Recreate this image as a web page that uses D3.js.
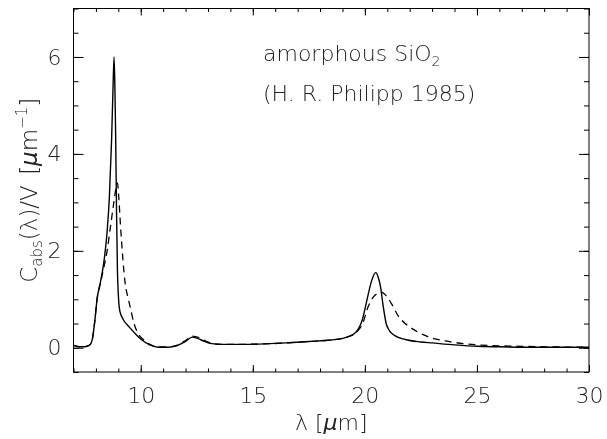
<!DOCTYPE html>
<html>
<head>
<meta charset="utf-8">
<script src="https://cdn.jsdelivr.net/npm/d3@7"></script>
<style>
  html, body { margin: 0; padding: 0; background: #fff; }
  svg { filter: grayscale(1); }
  svg text { font-family: "DejaVu Sans", "Liberation Sans", sans-serif; font-weight: 200; fill: #222; }
</style>
</head>
<body>
<svg id="chart" width="607" height="439"></svg>
<script>
// Wavelength (micron) and C_abs/V (per micron) for the solid curve
const solidLambda = [7.0,7.15,7.3,7.5,7.65,7.75,7.85,7.95,8.05,8.2,8.35,8.5,8.6,8.7,8.76,8.81,8.85,8.88,8.92,8.96,9.0,9.07,9.2,9.5,9.8,10.0,10.4,10.8,11.2,11.6,12.0,12.3,12.5,12.8,13.1,13.6,14.5,15.5,16.5,17.5,18.5,19.2,19.6,19.9,20.1,20.3,20.48,20.6,20.7,20.82,20.95,21.1,21.3,21.8,22.5,23.0,24,25,26,28,30];
const solidValue  = [0.05,0.03,0.02,0.02,0.04,0.07,0.2,0.55,1.0,1.35,1.75,2.4,3.1,4.3,5.3,6.0,5.3,4.4,2.8,1.6,1.1,0.75,0.6,0.42,0.27,0.18,0.06,0.01,0.01,0.04,0.13,0.22,0.20,0.14,0.09,0.07,0.07,0.08,0.10,0.13,0.16,0.22,0.32,0.6,1.0,1.38,1.55,1.45,1.25,0.85,0.5,0.35,0.26,0.17,0.12,0.10,0.06,0.03,0.02,0.01,0.01];
// Dashed curve
const dashLambda = [7.0,7.3,7.65,7.75,7.85,7.95,8.05,8.2,8.35,8.5,8.65,8.8,8.9,8.96,9.02,9.1,9.2,9.3,9.45,9.55,9.7,9.85,10.0,10.2,10.4,10.8,11.2,11.6,12.0,12.3,12.6,12.9,13.2,13.6,14.5,15.5,16.5,17.5,18.5,19.2,19.6,19.9,20.15,20.35,20.55,20.75,20.95,21.2,21.5,21.8,22.2,22.6,23.0,23.6,24.5,25.2,26,27,28,30];
const dashValue  = [0.05,0.02,0.04,0.07,0.2,0.55,1.0,1.33,1.65,2.0,2.5,3.0,3.3,3.4,3.1,2.5,1.85,1.35,1.0,0.8,0.5,0.32,0.22,0.14,0.07,0.02,0.02,0.05,0.15,0.24,0.21,0.14,0.09,0.07,0.07,0.08,0.10,0.13,0.16,0.22,0.31,0.5,0.85,1.03,1.12,1.15,1.07,0.9,0.65,0.5,0.37,0.27,0.2,0.14,0.08,0.055,0.04,0.03,0.02,0.01];

const xDomain = [7, 30];
const yDomain = [-0.5, 7];
const xMajorTicks = [10, 15, 20, 25, 30];
const xMinorTicks = [7,8,9,10,11,12,13,14,15,16,17,18,19,20,21,22,23,24,25,26,27,28,29,30];
const yMajorTicks = [0, 2, 4, 6];
const yMinorTicks = [-0.5,0,0.5,1,1.5,2,2.5,3,3.5,4,4.5,5,5.5,6,6.5,7];

const svg = d3.select("#chart");
const L = 73.5, R = 589, T = 8.5, B = 372;
const x = d3.scaleLinear().domain(xDomain).range([L, R]);
const y = d3.scaleLinear().domain(yDomain).range([B, T]);

svg.append("defs").append("clipPath").attr("id", "clip")
  .append("rect").attr("x", L).attr("y", T).attr("width", R - L).attr("height", B - T);

const xMajLen = 7, xMinLen = 3.5, yMajLen = 10, yMinLen = 5;
const fs = 22;
const FONT = "DejaVu Sans, Liberation Sans, sans-serif";

function styleAxis(g) {
  g.select(".domain").remove();
  g.selectAll(".tick line").attr("stroke", "#000").attr("stroke-width", 1);
}
function styleText(g) {
  g.selectAll("text").attr("font-size", fs).style("font-family", FONT)
    .style("font-weight", 200).attr("fill", "#222");
}

// bottom
svg.append("g").attr("transform", `translate(0,${B})`)
  .call(d3.axisBottom(x).tickValues(xMinorTicks).tickSize(-xMinLen).tickFormat(""))
  .call(styleAxis);
svg.append("g").attr("transform", `translate(0,${B})`)
  .call(d3.axisBottom(x).tickValues(xMajorTicks).tickSize(-xMajLen).tickPadding(15).tickFormat(d3.format("d")))
  .call(styleAxis).call(styleText);
// top
svg.append("g").attr("transform", `translate(0,${T})`)
  .call(d3.axisTop(x).tickValues(xMinorTicks).tickSize(-xMinLen).tickFormat(""))
  .call(styleAxis);
svg.append("g").attr("transform", `translate(0,${T})`)
  .call(d3.axisTop(x).tickValues(xMajorTicks).tickSize(-xMajLen).tickFormat(""))
  .call(styleAxis);
// left
svg.append("g").attr("transform", `translate(${L},0)`)
  .call(d3.axisLeft(y).tickValues(yMinorTicks).tickSize(-yMinLen).tickFormat(""))
  .call(styleAxis);
svg.append("g").attr("transform", `translate(${L},0)`)
  .call(d3.axisLeft(y).tickValues(yMajorTicks).tickSize(-yMajLen).tickPadding(12).tickFormat(d3.format("d")))
  .call(styleAxis).call(styleText);
// right
svg.append("g").attr("transform", `translate(${R},0)`)
  .call(d3.axisRight(y).tickValues(yMinorTicks).tickSize(-yMinLen).tickFormat(""))
  .call(styleAxis);
svg.append("g").attr("transform", `translate(${R},0)`)
  .call(d3.axisRight(y).tickValues(yMajorTicks).tickSize(-yMajLen).tickFormat(""))
  .call(styleAxis);

// frame
svg.append("rect").attr("x", L).attr("y", T).attr("width", R - L).attr("height", B - T)
  .attr("fill", "none").attr("stroke", "#000").attr("stroke-width", 1);

const line = d3.line().x(d => x(d[0])).y(d => y(d[1])).curve(d3.curveMonotoneX);
const solid = solidLambda.map((l, i) => [l, solidValue[i]]);
const dashed = dashLambda.map((l, i) => [l, dashValue[i]]);

const plot = svg.append("g").attr("clip-path", "url(#clip)");
plot.append("path").datum(solid).attr("d", line)
  .attr("fill", "none").attr("stroke", "#000").attr("stroke-width", 1.4);
plot.append("path").datum(dashed).attr("d", line)
  .attr("fill", "none").attr("stroke", "#000").attr("stroke-width", 1.3)
  .attr("stroke-dasharray", "7,5");

// annotations
const t1 = svg.append("text").attr("x", 263).attr("y", 61).attr("font-size", fs);
t1.append("tspan").text("amorphous SiO");
t1.append("tspan").attr("font-size", 14).attr("dy", 5).text("2");
svg.append("text").attr("x", 263).attr("y", 101).attr("font-size", fs).text("(H. R. Philipp 1985)");

// x title
const xt = svg.append("text").attr("x", (L + R) / 2).attr("y", 430).attr("text-anchor", "middle").attr("font-size", fs);
xt.append("tspan").text("λ [");
xt.append("tspan").attr("font-style", "italic").text("μ");
xt.append("tspan").text("m]");

// y title
const yt = svg.append("text").attr("transform", `translate(37,${(T + B) / 2}) rotate(-90)`)
  .attr("text-anchor", "middle").attr("font-size", 23).attr("word-spacing", 3);
yt.append("tspan").text("C");
yt.append("tspan").attr("font-size", 15).attr("dy", 5).text("abs");
yt.append("tspan").attr("dy", -5).text("(λ)/V [");
yt.append("tspan").attr("font-style", "italic").text("μ");
yt.append("tspan").text("m");
yt.append("tspan").attr("font-size", 15).attr("dy", -10).text("−1");
yt.append("tspan").attr("dy", 10).text("]");
</script>
</body>
</html>
